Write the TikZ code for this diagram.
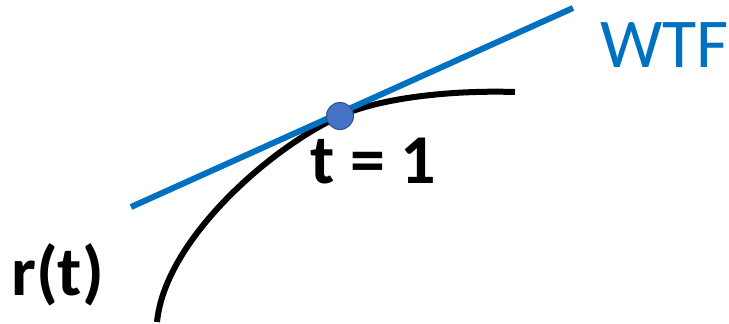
\documentclass[tikz,border=0pt]{standalone}
\usepackage{fontspec}
\setmainfont{Carlito}
\definecolor{lineblue}{RGB}{0,112,192}
\definecolor{dotblue}{RGB}{68,114,196}
\definecolor{dotedge}{RGB}{47,82,143}
\begin{document}
\begin{tikzpicture}[x=1pt,y=-1pt,
  lbl/.style={inner sep=0pt,font=\fontsize{70}{76}\selectfont}]
\useasboundingbox (0,0) rectangle (729,324);
\coordinate (c0) at (157,322);
\coordinate (p) at (340,116);
\coordinate (c1) at (515,92);
\coordinate (l0) at (131,207);
\coordinate (l1) at (573,8);
\draw[line width=6pt] (c0) .. controls (165,240) and (270,148) .. (p)
  .. controls (380,98) and (450,90) .. (c1);
\draw[lineblue,line width=6pt] (l0) -- (l1);
\node[circle,fill=dotblue,draw=dotedge,line width=1pt,minimum size=27pt,inner sep=0pt] (dot) at (p) {};
\node[lbl,text=lineblue,anchor=base west] (wtf) at (600,67) {WTF};
\node[lbl,font=\fontsize{70}{76}\selectfont\bfseries,anchor=base west] (t1) at (310,183) {t = 1};
\node[lbl,font=\fontsize{70}{76}\selectfont\bfseries,anchor=base west] (rt) at (11,295) {r(t)};
\end{tikzpicture}
\end{document}
